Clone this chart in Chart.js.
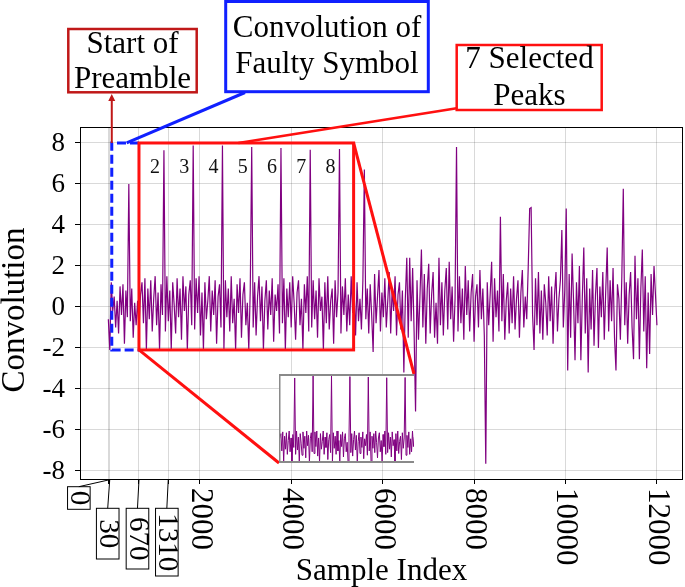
<!DOCTYPE html>
<html><head><meta charset="utf-8">
<script src="https://cdn.jsdelivr.net/npm/chart.js@4/dist/chart.umd.min.js"></script>
<style>
html,body{margin:0;padding:0;background:#fff;}
#wrap{position:relative;width:685px;height:587px;overflow:hidden;}
#main{position:absolute;left:0;top:0;}
#inset{position:absolute;}
</style></head><body>
<div id="wrap"><canvas id="main" width="685" height="587"></canvas><canvas id="inset" width="135" height="89"></canvas></div>
<script>
// ---------- data ----------
const SAMPLE_STEP = 32; // sample spacing of the values below
const convolution = [
 -0.6,-2.1,1.2,-0.2,0.5,-1.0,0.3,-1.3,1.0,-0.4, 1.1,-1.8,0.8,-0.5,6.0,-0.7,0.9,-1.5,0.2,-0.9,
 0.3,-1.1,0.6,1.2,-0.8,1.4,-2.1,0.9,-0.6,1.3, -1.2,0.4,1.5,-0.9,0.7,-2.1,1.1,-0.4,7.64,-1.2,
 1.5,-0.7,0.8,-2.1,1.2,0.1,-1.3,1.4,-0.5,0.9, -1.6,1.5,-0.2,1.0,-2.1,0.6,1.3,-0.9,7.88,-1.1,
 1.4,-0.3,1.5,-1.4,0.7,-2.1,1.2,-0.6,0.3,1.5, -1.2,0.8,-0.4,1.3,-1.8,0.5,1.1,-1.0,7.88,-2.1,
 1.3,-0.5,0.9,-1.2,1.5,-0.8,0.4,-2.1,1.1,-0.3, 1.4,-1.5,0.6,1.2,-0.9,0.2,-2.1,0.8,7.8,-1.0,
 1.2,-1.4,0.5,1.5,-0.7,1.0,-2.1,0.3,1.3,-1.1, 0.8,-0.4,1.4,-1.7,0.6,-0.2,1.1,-1.3,7.75,-0.8,
 1.4,-2.1,0.9,-0.5,1.2,-1.0,1.5,0.2,-1.6,0.7, 1.3,-0.9,0.4,-2.1,1.1,-0.3,1.5,-1.2,7.67,-1.0,
 1.3,-0.6,0.8,-1.5,1.4,-0.2,0.5,-2.1,1.2,-0.8, 1.5,-1.1,0.3,0.9,-1.8,1.3,-0.5,0.7,7.7,-1.3,
 1.0,-0.4,1.4,-1.2,0.6,-0.9,1.5,-0.3,0.8,-1.4, 1.2,-0.7,0.4,-1.1,1.3,6.7,-0.6,0.9,-1.3,1.1,
 -0.4,-2.2,1.6,-0.8,0.5,1.8,-1.2,0.7,-0.5,1.4, -1.0,0.3,1.7,-1.3,0.9,-0.2,1.5,-1.4,0.6,1.2,
 -1.1,0.8,-3.2,0.4,2.4,-1.5,2.4,-0.7,1.9,-1.2, -5.1,1.3,-1.6,0.5,2.8,-1.0,1.6,-1.8,0.9,2.1,
 -1.3,0.6,1.7,-1.5,0.2,-1.8,2.4,-0.9,1.2,-1.4, 0.8,1.9,-1.1,2.2,-0.6,1.0,-1.7,0.4,7.8,-1.2,
 1.5,-0.8,0.9,-1.6,2.0,-0.4,1.3,-1.2,0.7,1.6, -1.7,0.5,1.1,-1.0,1.8,-0.6,0.9,-1.4,-7.65,1.2,
 -0.9,0.6,2.2,-1.7,1.4,-0.5,0.8,-1.2,4.4,-0.7, 1.6,-1.6,0.3,1.2,-1.3,0.9,-0.8,1.5,-1.1,0.4,
 1.3,-1.5,0.7,1.8,-1.0,0.5,-0.6,1.9,4.8,4.85, -0.4,-2.1,1.4,-0.9,1.7,-1.3,0.8,-1.6,1.1,0.2,
 -1.4,1.5,-0.7,1.0,-1.8,0.6,1.7,-1.2,0.4,1.3, 3.75,-1.0,0.8,4.8,-3.1,1.6,-1.5,2.6,0.3,-2.6,
 1.2,-0.8,2.0,-2.6,0.5,2.9,-1.3,1.4,-3.2,0.9, -1.1,1.8,-1.9,0.6,1.9,-2.0,1.0,-0.5,1.7,-1.6,
 0.8,2.9,-1.2,1.3,-0.7,1.9,-1.5,-3.1,1.1,0.4, -1.6,1.5,5.77,-0.9,1.2,-1.8,0.6,1.7,-1.0,-2.55,
 2.5,-0.6,1.4,-2.55,0.9,2.8,-1.2,1.5,-3.0,0.7, -2.3,1.6,-0.4,2.0,0.6,-0.9
];
const xTickValues = [2000, 4000, 6000, 8000, 10000, 12000];
const xTickLabels = ['2000', '4000', '6000', '8000', '10000', '12000'];
const markedSamples = [0, 30, 670, 1310];
const markedLabels = ['0', '30', '670', '1310'];
const yTickValues = [-8, -6, -4, -2, 0, 2, 4, 6, 8];
const yTickLabels = ['-8', '-6', '-4', '-2', '0', '2', '4', '6', '8'];
const peakSamples = [1216, 1856, 2496, 3136, 3776, 4416, 5056];
const peakLabels = ['2', '3', '4', '5', '6', '7', '8'];
const preambleStart = 75;      // sample where preamble starts (blue box left)
const faultyEnd = 670;         // end of faulty symbol region
const peaksEnd = 5365;         // end of selected-peaks region
const regionTop = 8;
const regionBottom = -2.1;
const faultyLinkSample = 400;  // where the blue callout leaves the box
const peaksLinkSample = 2845;  // where the red callout leaves the box
const xLabel = 'Sample Index';
const yLabel = 'Convolution';

// ---------- styling / layout ----------
const FONT = "'Liberation Serif','Times New Roman',serif";
const PURPLE = 'rgb(128,0,128)';
const RED = '#ff1010';
const DARKRED = '#c01818';
const BLUE = '#1020ff';
const insetBox = {left: 279, top: 374, width: 135, height: 89};
const markedBoxes = [
  {dx: -29.5, top: 486.7, h: 22.6},
  {dx: -2, top: 508.3, h: 50.7},
  {dx: -1.5, top: 508.3, h: 60.7},
  {dx: -1.4, top: 508.3, h: 67.7}
];

const points = convolution.map((v, i) => ({x: i * SAMPLE_STEP, y: v}));

function rotText(ctx, s, x, y, angle, align, base) {
  ctx.save(); ctx.translate(x, y); ctx.rotate(angle);
  ctx.textAlign = align; ctx.textBaseline = base; ctx.fillText(s, 0, 0); ctx.restore();
}
function line(ctx, x1, y1, x2, y2) { ctx.beginPath(); ctx.moveTo(x1, y1); ctx.lineTo(x2, y2); ctx.stroke(); }

const annot = {
  id: 'annot',
  afterDatasetsDraw(chart) {
    const {ctx, scales: {x, y}} = chart;
    ctx.save();
    // peak numbers
    ctx.fillStyle = '#111'; ctx.font = `20px ${FONT}`; ctx.textAlign = 'center'; ctx.textBaseline = 'middle';
    peakSamples.forEach((s, i) => ctx.fillText(peakLabels[i], x.getPixelForValue(s) - 9, y.getPixelForValue(6.8)));
    const yT = y.getPixelForValue(regionTop), yB = y.getPixelForValue(regionBottom);
    // blue dashed box
    ctx.strokeStyle = BLUE; ctx.lineWidth = 3; ctx.setLineDash([9, 4]);
    const bx0 = x.getPixelForValue(preambleStart), bx1 = x.getPixelForValue(faultyEnd);
    ctx.beginPath(); ctx.moveTo(bx1, yT); ctx.lineTo(bx0, yT); ctx.lineTo(bx0, yB); ctx.lineTo(bx1, yB); ctx.stroke();
    ctx.setLineDash([]);
    // red solid box
    const rx0 = x.getPixelForValue(faultyEnd), rx1 = x.getPixelForValue(peaksEnd);
    ctx.strokeStyle = RED; ctx.lineWidth = 3;
    ctx.strokeRect(rx0, yT, rx1 - rx0, yB - yT);
    ctx.restore();
  },
  afterDraw(chart) {
    const {ctx, chartArea: a, scales: {x, y}} = chart;
    ctx.save();
    // frame
    ctx.strokeStyle = '#000'; ctx.lineWidth = 1;
    ctx.strokeRect(a.left + 0.5, a.top + 0.5, a.right - a.left - 1, a.bottom - a.top);
    ctx.fillStyle = '#000';
    // y tick labels
    ctx.font = `27px ${FONT}`; ctx.textAlign = 'right'; ctx.textBaseline = 'middle';
    yTickValues.forEach((v, i) => ctx.fillText(yTickLabels[i], a.left - 15, y.getPixelForValue(v) + 1));
    // x tick labels (rotated clockwise)
    ctx.font = `31px ${FONT}`;
    xTickValues.forEach((v, i) => rotText(ctx, xTickLabels[i], x.getPixelForValue(v), a.bottom + 9, Math.PI / 2, 'left', 'middle'));
    // marked samples with boxes
    ctx.font = `29px ${FONT}`;
    markedSamples.forEach((v, i) => {
      const b = markedBoxes[i], px = x.getPixelForValue(v), cx = px + b.dx, w = 22.6;
      ctx.strokeStyle = '#000'; ctx.lineWidth = 1;
      line(ctx, px, a.bottom + 1, cx, b.top);
      ctx.strokeRect(cx - w / 2, b.top, w, b.h);
      rotText(ctx, markedLabels[i], cx, b.top + b.h / 2, Math.PI / 2, 'center', 'middle');
    });
    // axis titles
    ctx.font = `31px ${FONT}`; ctx.textAlign = 'center'; ctx.textBaseline = 'alphabetic';
    ctx.fillText(xLabel, (a.left + a.right) / 2, 580);
    ctx.font = `33px ${FONT}`;
    rotText(ctx, yLabel, 24, 310, -Math.PI / 2, 'center', 'alphabetic');

    const yT = y.getPixelForValue(regionTop), yB = y.getPixelForValue(regionBottom);
    // callout boxes
    ctx.font = `31px ${FONT}`; ctx.textAlign = 'center'; ctx.textBaseline = 'alphabetic';
    // Start of Preamble
    ctx.strokeStyle = DARKRED; ctx.lineWidth = 2.5;
    ctx.strokeRect(68.3, 29, 128.4, 63.3);
    ctx.fillText('Start of', 132.5, 53); ctx.fillText('Preamble', 132.5, 88);
    const ax = x.getPixelForValue(preambleStart);
    ctx.lineWidth = 2; line(ctx, ax, yT, ax, 99);
    ctx.fillStyle = DARKRED; ctx.beginPath(); ctx.moveTo(ax, 94); ctx.lineTo(ax - 3.5, 101); ctx.lineTo(ax + 3.5, 101); ctx.closePath(); ctx.fill();
    ctx.fillStyle = '#000';
    // Convolution of Faulty Symbol
    ctx.strokeStyle = BLUE; ctx.lineWidth = 3;
    ctx.strokeRect(225.7, 1.5, 202.6, 90.2);
    ctx.fillText('Convolution of', 327, 36.7); ctx.fillText('Faulty Symbol', 327, 73.3);
    line(ctx, x.getPixelForValue(faultyLinkSample), yT, 245, 92.5);
    // 7 Selected Peaks
    ctx.strokeStyle = RED; ctx.lineWidth = 2.5;
    ctx.strokeRect(456.7, 45, 145, 65);
    ctx.fillText('7 Selected', 529.5, 68); ctx.fillText('Peaks', 529.5, 105);
    line(ctx, x.getPixelForValue(peaksLinkSample), yT, 456.7, 108.3);
    // zoom connectors to inset
    ctx.lineWidth = 3;
    line(ctx, x.getPixelForValue(peaksEnd), yT, insetBox.left + insetBox.width, insetBox.top);
    line(ctx, x.getPixelForValue(faultyEnd), yB, insetBox.left, insetBox.top + insetBox.height);
    ctx.restore();
  }
};

const gridOpts = {color: 'rgba(0,0,0,0.15)', tickLength: 5, tickColor: '#000', lineWidth: 1};

new Chart(document.getElementById('main'), {
  type: 'line',
  data: {datasets: [{data: points, borderColor: PURPLE, borderWidth: 1.2, pointRadius: 0, tension: 0}]},
  options: {
    responsive: false, animation: false, devicePixelRatio: 1,
    layout: {padding: {left: 75, right: 2, top: 127, bottom: 103}},
    plugins: {legend: {display: false}, tooltip: {enabled: false}},
    scales: {
      x: {type: 'linear', min: -620, max: 12570,
          afterBuildTicks: s => { s.ticks = markedSamples.concat(xTickValues).map(v => ({value: v})); },
          ticks: {display: false}, grid: gridOpts, border: {display: false}},
      y: {type: 'linear', min: -8.4, max: 8.78,
          afterBuildTicks: s => { s.ticks = yTickValues.map(v => ({value: v})); },
          ticks: {display: false}, grid: gridOpts, border: {display: false}}
    }
  },
  plugins: [annot]
});

// ---------- inset (zoom of the selected-peaks region) ----------
const insetCanvas = document.getElementById('inset');
insetCanvas.style.left = insetBox.left + 'px';
insetCanvas.style.top = insetBox.top + 'px';
const insetFrame = {
  id: 'insetFrame',
  beforeDraw(chart) { const c = chart.ctx; c.save(); c.fillStyle = '#fff'; c.fillRect(0, 0, chart.width, chart.height); c.restore(); },
  afterDraw(chart) {
    const c = chart.ctx; c.save(); c.strokeStyle = '#8a8a8a';
    c.lineWidth = 2; line(c, 0, 1, chart.width, 1); line(c, 0, chart.height - 1, chart.width, chart.height - 1);
    c.lineWidth = 1.5; line(c, 0.75, 0, 0.75, chart.height);
    c.restore();
  }
};
new Chart(insetCanvas, {
  type: 'line',
  data: {datasets: [{data: points, borderColor: PURPLE, borderWidth: 1, pointRadius: 0, tension: 0}]},
  options: {
    responsive: false, animation: false, devicePixelRatio: 1,
    layout: {padding: 0},
    plugins: {legend: {display: false}, tooltip: {enabled: false}},
    scales: {
      x: {type: 'linear', min: faultyEnd, max: peaksEnd, display: false},
      y: {type: 'linear', min: regionBottom - 0.1, max: regionTop + 0.1, display: false}
    }
  },
  plugins: [insetFrame]
});
</script>
</body></html>
